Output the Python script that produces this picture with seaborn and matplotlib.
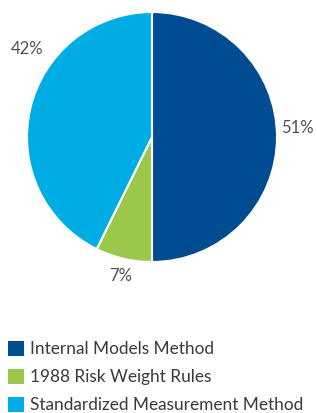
import matplotlib
matplotlib.use("Agg")
import matplotlib.pyplot as plt
import seaborn as sns
from matplotlib.patches import Patch

categories = ["Internal Models Method", "1988 Risk Weight Rules", "Standardized Measurement Method"]
values = [50.0, 7.3, 42.7]
value_labels = ["51%", "7%", "42%"]
colors = ["#004C93", "#9BC84A", "#00ACE4"]

sns.set_theme(style="white")
plt.rcParams['font.family'] = ['Lato', 'DejaVu Sans']

fig = plt.figure(figsize=(3.17, 4.13), dpi=100)
W, H = 317, 413
cx, cy, r = 152, 137, 125
ax = fig.add_axes([(cx - r) / W, (H - cy - r) / H, 2 * r / W, 2 * r / H])
wedges, _ = ax.pie(values, colors=colors, startangle=90, counterclock=False,
                   wedgeprops=dict(edgecolor="white", linewidth=1.5), radius=1.0)
ax.set_xlim(-1, 1)
ax.set_ylim(-1, 1)
ax.set_aspect("equal")
ax.axis("off")

label_pos = [(297, 128), (121, 276), (27, 49)]
for (px, py), lab in zip(label_pos, value_labels):
    fig.text(px / W, 1 - py / H, lab, ha="center", va="center", fontsize=12, color="#505050")

handles = [Patch(facecolor=c, edgecolor="none") for c in colors]
fig.legend(handles, categories, loc="upper left", bbox_to_anchor=(8 / W, 1 - 341 / H),
           frameon=False, fontsize=12.4, handlelength=0.95, handleheight=0.95,
           handletextpad=0.3, labelspacing=0.68, borderaxespad=0, borderpad=0,
           labelcolor="#3a3a3a")

fig.savefig("out.png", dpi=100)
